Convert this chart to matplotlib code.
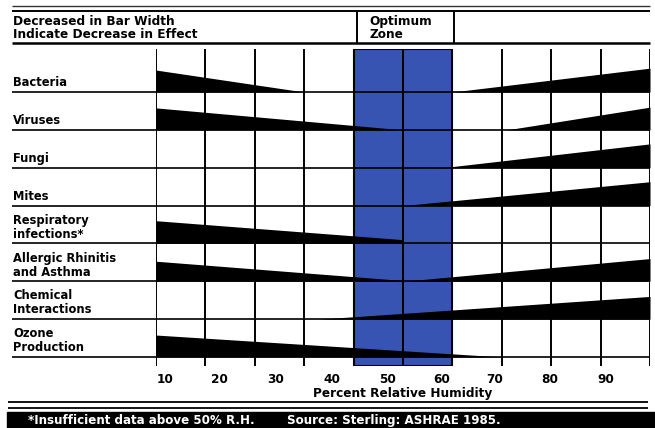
import matplotlib.pyplot as plt
from matplotlib.patches import Rectangle

plt.rcParams['font.family'] = 'DejaVu Sans'
plt.rcParams['font.weight'] = 'bold'

# rows, top to bottom
rows = ["Bacteria", "Viruses", "Fungi", "Mites",
        "Respiratory\ninfections*", "Allergic Rhinitis\nand Asthma",
        "Chemical\nInteractions", "Ozone\nProduction"]

# low-humidity wedge: humidity where it starts/ends and its width there (row units)
low_from = [0, 0, None, None, 0, 0, None, 0]
low_to = [30, 50, None, None, 50, 50, None, 70]
low_w_from = [0.58, 0.58, 0, 0, 0.60, 0.53, 0, 0.58]
low_w_to = [0, 0, 0, 0, 0.10, 0.02, 0, 0]

# high-humidity wedge: humidity where it starts, width at 100 %
high_from = [60, 71, 58, 50, None, 50, 33, None]
high_w = [0.63, 0.60, 0.63, 0.63, 0, 0.60, 0.60, 0]

optimum = (40, 60)
grid_rh = list(range(0, 101, 10))
tick_labels = ["10", "20", "30", "40", "50", "60", "70", "80", "90"]
tick_pos = [1.8, 12.8, 24.3, 35.6, 46.8, 57.9, 68.6, 79.8, 91.1]

fig = plt.figure(figsize=(6.55, 4.28), dpi=100)

# frame / header / footer drawn in pixel coordinates
deco = fig.add_axes([0, 0, 1, 1])
deco.set_xlim(0, 655)
deco.set_ylim(428, 0)
deco.axis('off')
deco.hlines([6], 12, 650, color='#333333', lw=1.0)
deco.hlines([11], 12, 650, color='black', lw=1.4)
deco.hlines([43], 12, 650, color='black', lw=1.8)
deco.vlines([357, 454], 11, 43, color='black', lw=1.4)
deco.text(13, 28, "Decreased in Bar Width\nIndicate Decrease in Effect",
          fontsize=8.7, va='center', ha='left', linespacing=1.0)
deco.text(369, 28, "Optimum\nZone", fontsize=8.7, va='center', ha='left',
          linespacing=1.0)
deco.hlines([402, 408], 8, 648, color='black', lw=1.3)
deco.add_patch(Rectangle((7, 412), 648, 16, color='black'))
deco.text(28, 424, "*Insufficient data above 50% R.H.", color='white',
          fontsize=8.6, va='baseline')
deco.text(287, 424, "Source: Sterling: ASHRAE 1985.", color='white',
          fontsize=8.6, va='baseline')

ax = fig.add_axes([156 / 655, 1 - 366 / 428, 494 / 655, 317 / 428])
ax.set_facecolor('none')
ax.set_xlim(0, 100)
ax.set_ylim(8.238, -0.136)
for s in ax.spines.values():
    s.set_visible(False)

ax.axvspan(optimum[0], optimum[1], facecolor='#3754b2', edgecolor='black',
           lw=1.5, zorder=1)
ax.vlines(grid_rh, 8.238, -0.136, color='black', lw=1.4, zorder=2)
ax.vlines([(optimum[0] + optimum[1]) / 2], 8.238, -0.136, color='black',
          lw=1.4, zorder=2)

ytr = ax.get_yaxis_transform()
for i, name in enumerate(rows):
    base = i + 1
    ax.hlines(base, -0.2915, 1.0, transform=ytr, color='black', lw=1.2,
              clip_on=False, zorder=2)
    ax.text(-0.2895, base - 0.07, name, transform=ytr, fontsize=8.3,
            ha='left', va='bottom', linespacing=1.1)
    if low_from[i] is not None:
        ax.fill_between([low_from[i], low_to[i]], base,
                        [base - low_w_from[i], base - low_w_to[i]],
                        color='black', lw=0, zorder=3)
    if high_from[i] is not None:
        ax.fill_between([high_from[i], 100], base, [base, base - high_w[i]],
                        color='black', lw=0, zorder=3)

ax.set_yticks([])
ax.set_xticks(tick_pos, tick_labels, fontsize=8.7, fontweight='bold')
ax.tick_params(axis='x', length=0, pad=5)
ax.set_xlabel("Percent Relative Humidity", fontsize=8.7, fontweight='bold',
              labelpad=1)

fig.savefig("out.png", dpi=100)
